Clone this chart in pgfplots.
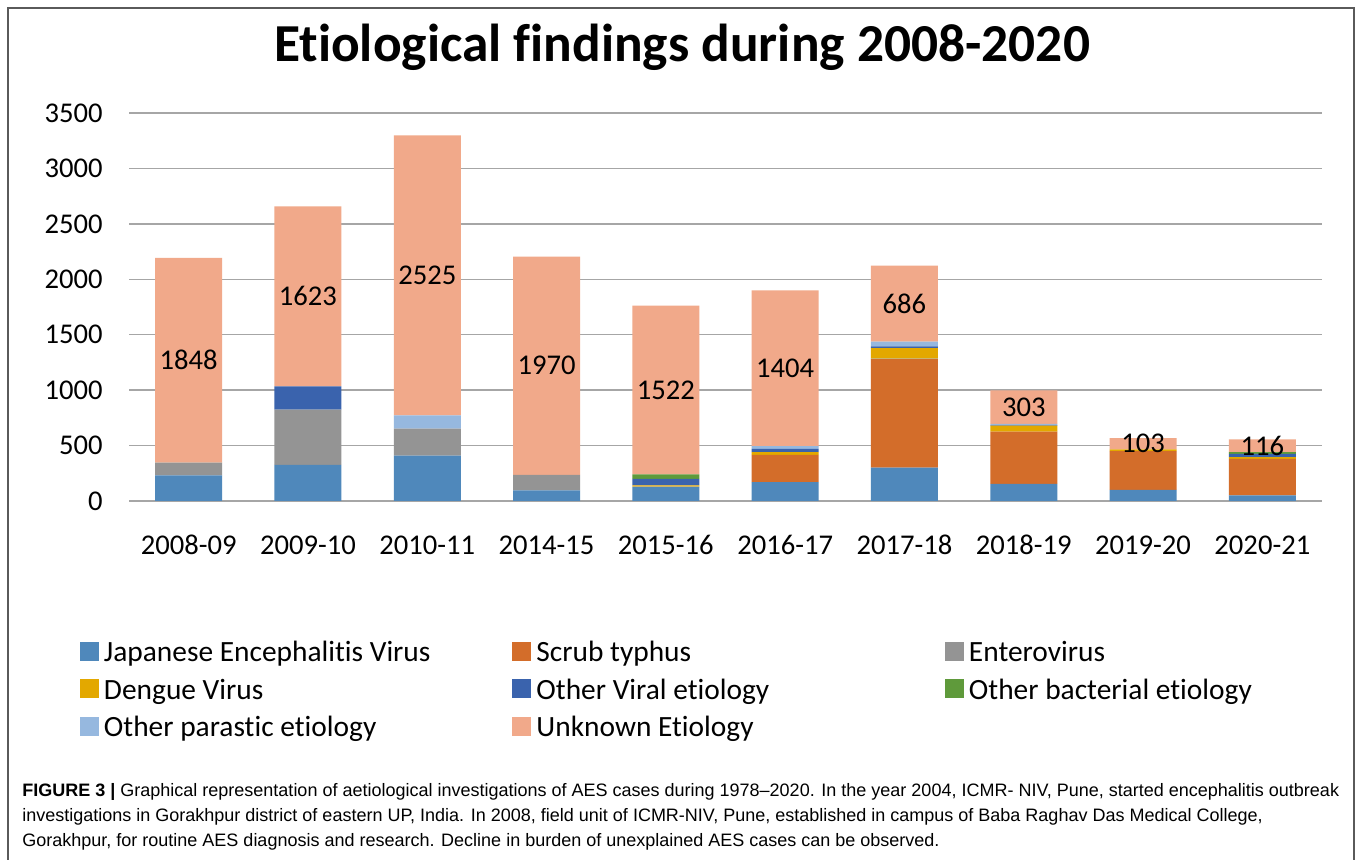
\documentclass[border=0pt]{standalone}
\usepackage{pgfplots}
\usepackage{pgfplotstable}
\pgfplotsset{compat=1.18}
\usepackage{fontspec}
\setmainfont[Ligatures=NoCommon]{Carlito}
\newfontfamily\capfont{Liberation Sans}

\definecolor{cJE}{HTML}{4F88BB}
\definecolor{cScrub}{HTML}{D36D2A}
\definecolor{cEntero}{HTML}{949494}
\definecolor{cDengue}{HTML}{E3A800}
\definecolor{cViral}{HTML}{3A63AD}
\definecolor{cBact}{HTML}{5F9A3B}
\definecolor{cPara}{HTML}{96B8DF}
\definecolor{cUnk}{HTML}{F1A98A}
\definecolor{gridgray}{HTML}{A6A6A6}
\definecolor{framegray}{HTML}{5A5A5A}

% cases per season, bottom to top of each bar
\pgfplotstableread{
x  je   scrub entero dengue viral bact para unk
0  230  0     115    0      0     0    0    1848
1  325  0     500    0      210   0    0    1623
2  410  0     243    0      0     0    120  2525
3  95   0     140    0      0     0    0    1970
4  125  0     5      12     57    42   0    1522
5  170  246   0      25     30    0    24   1404
6  300  980   5      95     15    0    42   686
7  155  470   0      55     5     0    10   303
8  100  350   0      15     0     0    0    103
9  50   330   0      15     30    15   0    116
}\aesdata

% middle of the unknown segment, for its label
\pgfplotstableread{
x  mid     lab
0  1269    1848
1  1846.5  1623
2  2035.5  2525
3  1220    1970
4  1002    1522
5  1197    1404
6  1780    686
7  846.5   303
8  516.5   103
9  498     116
}\unklabels

\newcommand\chartfont{\fontsize{14.3}{17}\selectfont}
\newcommand\legfont{\fontsize{14.7}{17}\selectfont}
\pgfplotsset{legsq/.style={legend image code/.code={%
  \fill[##1] (0pt,0.5pt) rectangle (9.5pt,10pt); \path (12pt,0pt);}}}
\newcommand\ent[1]{\makebox[204.25pt][l]{#1}}

\begin{document}
\begin{tikzpicture}
\useasboundingbox (0,0) rectangle (679pt,430pt);
\fill[white] (0,0) rectangle (679pt,430pt);
\draw[framegray, line width=0.9pt] (4pt,0pt) -- (4pt,426pt) -- (677pt,426pt) -- (677pt,0pt);

\node[anchor=base, font=\fontsize{26.7}{30}\selectfont\bfseries] at (341pt,399pt)
  {Etiological findings during 2008-2020};

\begin{axis}[
  at={(64.5pt,179.5pt)}, anchor=south west,
  scale only axis, width=596.5pt, height=194pt,
  ybar stacked, bar width=33.5pt,
  xmin=-0.5, xmax=9.5, ymin=0, ymax=3500,
  xtick={0,...,9},
  xticklabels={2008-09,2009-10,2010-11,2014-15,2015-16,2016-17,2017-18,2018-19,2019-20,2020-21},
  ytick={0,500,...,3500},
  ymajorgrids, grid style={gridgray, line width=0.7pt},
  axis line style={draw=none},
  major tick length=0pt,
  tick label style={font=\chartfont, text=black},
  x tick label style={anchor=base, yshift=-27pt},
  y tick label style={anchor=east, xshift=-9.7pt},
  /pgf/number format/1000 sep={},
  /pgf/number format/assume math mode=true,
  legend columns=3,
  legend cell align=left,
  legend style={at={(-0.04107,-0.3634)}, anchor=north west,
    draw=none, fill=none, inner sep=0pt, outer sep=0pt,
    /tikz/column sep=0pt, /tikz/row sep=5.75pt, font=\legfont,
    nodes={inner sep=0pt, text height=10pt, text depth=3pt, anchor=base west}},
]
\addplot[fill=cJE, draw=none, legsq] table[x=x, y=je] {\aesdata};
\addlegendentry{\ent{Japanese Encephalitis Virus}}
\addplot[fill=cScrub, draw=none, legsq] table[x=x, y=scrub] {\aesdata};
\addlegendentry{\ent{Scrub typhus}}
\addplot[fill=cEntero, draw=none, legsq] table[x=x, y=entero] {\aesdata};
\addlegendentry{\ent{Enterovirus}}
\addplot[fill=cDengue, draw=none, legsq] table[x=x, y=dengue] {\aesdata};
\addlegendentry{\ent{Dengue Virus}}
\addplot[fill=cViral, draw=none, legsq] table[x=x, y=viral] {\aesdata};
\addlegendentry{\ent{Other Viral etiology}}
\addplot[fill=cBact, draw=none, legsq] table[x=x, y=bact] {\aesdata};
\addlegendentry{\ent{Other bacterial etiology}}
\addplot[fill=cPara, draw=none, legsq] table[x=x, y=para] {\aesdata};
\addlegendentry{\ent{Other parastic etiology}}
\addplot[fill=cUnk, draw=none, legsq] table[x=x, y=unk] {\aesdata};
\addlegendentry{\ent{Unknown Etiology}}
\end{axis}

\begin{axis}[
  at={(64.5pt,179.5pt)}, anchor=south west,
  scale only axis, width=596.5pt, height=194pt,
  xmin=-0.5, xmax=9.5, ymin=0, ymax=3500,
  hide axis, clip=false,
]
\addplot[only marks, mark=*, mark size=0pt, mark options={draw=none, fill=none},
  nodes near coords, point meta=explicit symbolic,
  nodes near coords style={anchor=center, font=\chartfont, text=black, inner sep=0pt}]
  table[x=x, y=mid, meta=lab] {\unklabels};
\end{axis}

\begin{scope}[font=\capfont\fontsize{9}{11}\selectfont]
\node[anchor=base west, inner sep=0pt] at (11pt,31.5pt)
  {\textbf{FIGURE 3 |} Graphical representation of aetiological investigations of AES cases during 1978\textendash 2020. In the year 2004, ICMR- NIV, Pune, started encephalitis outbreak};
\node[anchor=base west, inner sep=0pt] at (11pt,19pt)
  {investigations in Gorakhpur district of eastern UP, India. In 2008, field unit of ICMR-NIV, Pune, established in campus of Baba Raghav Das Medical College,};
\node[anchor=base west, inner sep=0pt] at (11pt,6.5pt)
  {Gorakhpur, for routine AES diagnosis and research. Decline in burden of unexplained AES cases can be observed.};
\end{scope}
\end{tikzpicture}
\end{document}
